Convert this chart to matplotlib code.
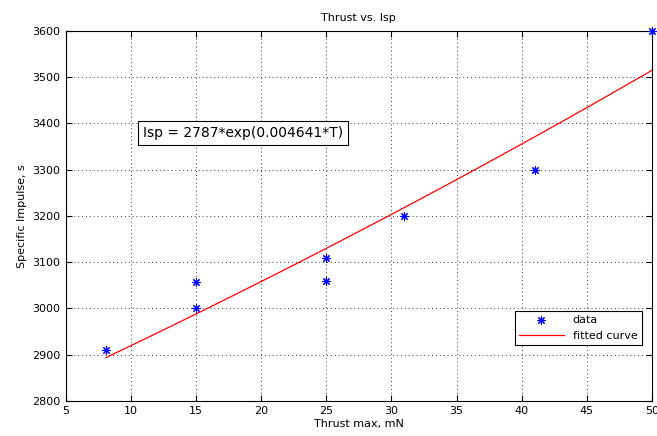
import numpy as np
import matplotlib
matplotlib.use('Agg')
import matplotlib.pyplot as plt

# measured points
thrust = [8.1, 15, 15, 25, 25, 31, 41, 50]
isp = [2910, 3000, 3058, 3110, 3060, 3200, 3300, 3600]

# fit coefficients shown on the chart: Isp = a*exp(b*T)
fit_a = 2787
fit_b = 0.004641
fit_range = [8.1, 50]

xticks = [5, 10, 15, 20, 25, 30, 35, 40, 45, 50]
yticks = [2800, 2900, 3000, 3100, 3200, 3300, 3400, 3500, 3600]

fig = plt.figure(figsize=(6.57, 4.36), dpi=100)
ax = fig.add_axes([0.0997, 0.0803, 0.8927, 0.8487])

t_fit = np.linspace(fit_range[0], fit_range[1], 100)
ax.plot(thrust, isp, linestyle='none', marker=(8, 2, 0), color='blue',
        markersize=6, markeredgewidth=0.8, label='data', clip_on=False, zorder=3)
ax.plot(t_fit, fit_a * np.exp(fit_b * t_fit), color='red', linewidth=0.9,
        label='fitted curve')

ax.set_xlim(5, 50)
ax.set_ylim(2800, 3600)
ax.set_xticks(xticks)
ax.set_yticks(yticks)
ax.grid(True, linestyle=(0, (1, 3)), color='#333333', linewidth=0.7)
ax.tick_params(direction='in', top=True, right=True, labelsize=8, length=4)
for s in ax.spines.values():
    s.set_linewidth(0.8)

ax.set_title('Thrust vs. Isp', fontsize=8, pad=7)
ax.set_xlabel('Thrust max, mN', fontsize=8, labelpad=2)
ax.set_ylabel('Specific Impulse, s', fontsize=8)

ax.text(0.1315, 0.725, 'Isp = 2787*exp(0.004641*T)', transform=ax.transAxes,
        fontsize=10, va='center', ha='left',
        bbox=dict(boxstyle='square,pad=0.35', facecolor='white', edgecolor='black', linewidth=0.8))

leg = ax.legend(loc='lower right', bbox_to_anchor=(0.992, 0.135), fontsize=8,
                fancybox=False, framealpha=1, edgecolor='black', borderpad=0.4,
                handlelength=4)
leg.get_frame().set_linewidth(0.8)

fig.savefig('out.png', dpi=100)
